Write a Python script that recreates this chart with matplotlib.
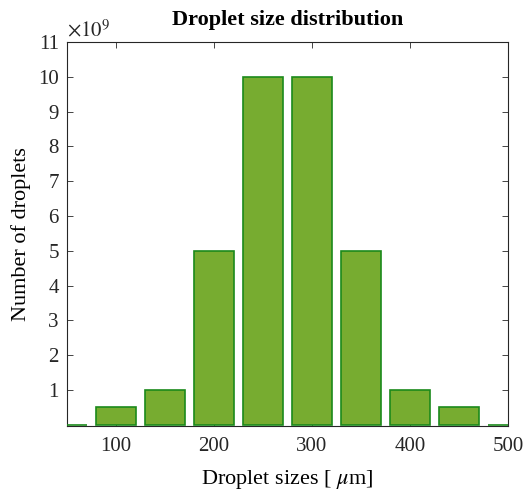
import matplotlib
matplotlib.use("Agg")
import matplotlib.pyplot as plt

plt.rcParams['font.family'] = ['Liberation Serif', 'DejaVu Serif']
plt.rcParams['mathtext.fontset'] = 'stix'

sizes = [50, 100, 150, 200, 250, 300, 350, 400, 450, 500]
counts = [0, 0.5e9, 1e9, 5e9, 10e9, 10e9, 5e9, 1e9, 0.5e9, 0]
xticks = [100, 200, 300, 400, 500]
yticks = [1, 2, 3, 4, 5, 6, 7, 8, 9, 10, 11]

fig = plt.figure(figsize=(5.28, 4.94), dpi=100)
ax = fig.add_axes([0.127, 0.138, 0.835, 0.777])

ax.bar(sizes, [c / 1e9 for c in counts], width=40, color='#77AC30',
       edgecolor='#1b8a1b', linewidth=1.2, zorder=3)

ax.set_xlim(50, 500)
ax.set_ylim(-0.03, 11)
ax.set_xticks(xticks)
ax.set_yticks(yticks)
ax.tick_params(direction='in', top=True, right=True, labelsize=15,
               length=4, width=0.6, colors='#262626', pad=8)
ax.tick_params(axis='y', pad=6)
for s in ax.spines.values():
    s.set_color('#262626')
    s.set_linewidth(0.8)
    s.set_zorder(1)

ax.set_title('Droplet size distribution', fontsize=16, fontweight='bold', pad=12)
ax.set_xlabel(r'Droplet sizes [ $\mu$m]', fontsize=16, labelpad=9)
ax.set_ylabel('Number of droplets', fontsize=16, labelpad=5)
ax.text(0.0, 1.003, r'$\times10^9$', transform=ax.transAxes, fontsize=15,
        ha='left', va='bottom', color='#262626')

fig.savefig('out.png', dpi=100)
